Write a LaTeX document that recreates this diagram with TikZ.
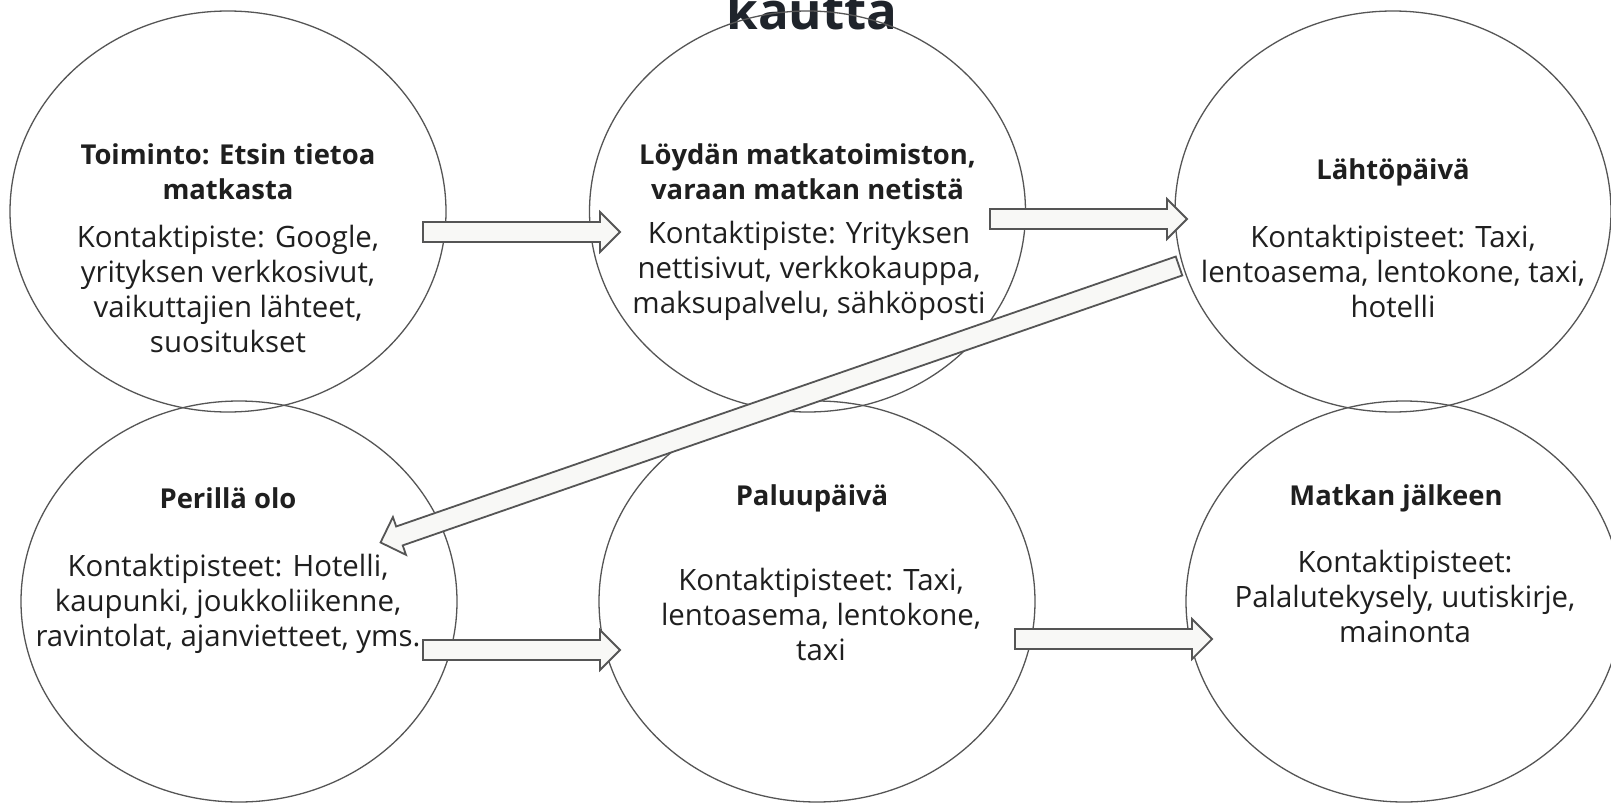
\documentclass[tikz,border=0pt]{standalone}
\usepackage{fontspec}
\setmainfont{Open Sans}
\usetikzlibrary{shapes.geometric, calc}
\definecolor{jline}{HTML}{555555}
\definecolor{jfill}{HTML}{F8F8F6}
\definecolor{jtext}{HTML}{1F1F1F}
\definecolor{jtitle}{HTML}{1F242B}

\tikzset{
  stage/.style={ellipse, draw=jline, line width=1.3pt, minimum width=436pt, minimum height=401pt, inner sep=0pt},
  headtext/.style={font=\fontsize{27.4}{35}\selectfont\bfseries, text=jtext, align=center, inner sep=0pt},
  bodytext/.style={font=\fontsize{29.4}{35}\selectfont, text=jtext, align=center, inner sep=0pt},
  blockarrow/.style={draw=jline, fill=jfill, line width=1.8pt, line join=miter}
}

% block arrow from tail #1 to tip #2
\newcommand{\blockarrow}[2]{%
  \draw[blockarrow] let \p1=(#1), \p2=(#2),
    \n1={atan2(\y2-\y1,\x2-\x1)}, \n2={veclen(\x2-\x1,\y2-\y1)} in
    [shift={(\p1)}, rotate=\n1]
    (0,-10) -- (\n2-20,-10) -- (\n2-20,-20) -- (\n2,0) -- (\n2-20,20) -- (\n2-20,10) -- (0,10) -- cycle;}

\begin{document}
\begin{tikzpicture}[x=1pt, y=-1pt]
\useasboundingbox (0,0) rectangle (1611,803);
\fill[white] (0,0) rectangle (1611,803);

\node[font=\fontsize{51}{55}\selectfont\bfseries, text=jtitle, anchor=base] (title) at (812,29) {kautta};

% stages
\node[stage] (etsin) at (228,211.5) {};
\node[stage] (varaus) at (807.5,211.5) {};
\node[stage] (lahto) at (1393,211.5) {};
\node[stage] (perilla) at (239,601.5) {};
\node[stage] (paluu) at (817,601.5) {};
\node[stage] (jalkeen) at (1404,601.5) {};

\node[headtext] (etsinh) at (228,171.5) {Toiminto: Etsin tietoa\\matkasta};
\node[bodytext] (etsinb) at (228,288.5) {Kontaktipiste: Google,\\yrityksen verkkosivut,\\vaikuttajien lähteet,\\suositukset};
\node[headtext] (varaush) at (807.5,171.5) {Löydän matkatoimiston,\\varaan matkan netistä};
\node[bodytext] (varausb) at (809,271) {Kontaktipiste: Yrityksen\\nettisivut, verkkokauppa,\\maksupalvelu, sähköposti};
\node[headtext] (lahtoh) at (1393,172.5) {Lähtöpäivä};
\node[bodytext] (lahtob) at (1393,271) {Kontaktipisteet: Taxi,\\lentoasema, lentokone, taxi,\\hotelli};

\node[headtext] (perillah) at (228,498) {Perillä olo};
\node[bodytext] (perillab) at (228,604) {Kontaktipisteet: Hotelli,\\kaupunki, joukkoliikenne,\\ravintolat, ajanvietteet, yms.};
\node[headtext] (paluuh) at (812,498) {Paluupäivä};
\node[bodytext] (paluub) at (821,614) {Kontaktipisteet: Taxi,\\lentoasema, lentokone,\\taxi};
\node[headtext] (jalkeenh) at (1396,498) {Matkan jälkeen};
\node[bodytext] (jalkeenb) at (1405,596.5) {Kontaktipisteet:\\Palalutekysely, uutiskirje,\\mainonta};

% arrows
\coordinate (a1s) at (423,232);  \coordinate (a1e) at (620,232);
\coordinate (a2s) at (990,219);  \coordinate (a2e) at (1187,219);
\coordinate (a3s) at (1179,266); \coordinate (a3e) at (380.5,542.5);
\coordinate (a4s) at (423,650);  \coordinate (a4e) at (620,650);
\coordinate (a5s) at (1015,639); \coordinate (a5e) at (1212,639);
\blockarrow{a1s}{a1e}
\blockarrow{a2s}{a2e}
\blockarrow{a3s}{a3e}
\blockarrow{a4s}{a4e}
\blockarrow{a5s}{a5e}
\end{tikzpicture}
\end{document}
